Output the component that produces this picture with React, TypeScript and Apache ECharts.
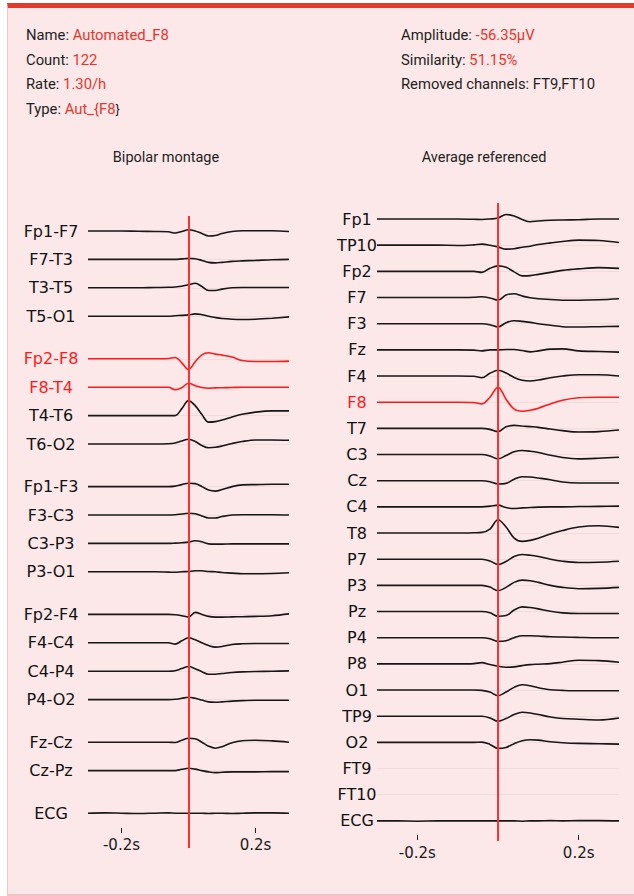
import React, { useEffect, useRef } from "react";
import * as echarts from "echarts";

// ---- time base (s) shared by every trace ----
const TIMES = [-0.3, -0.25, -0.2, -0.15, -0.1, -0.06, -0.04, -0.02, 0, 0.02, 0.04, 0.06, 0.08, 0.1, 0.13, 0.16, 0.2, 0.25, 0.3];
const X_TICKS = [-0.2, 0, 0.2];

// ---- header ----
const INFO_LEFT: [string, string][] = [
  ["Name", "Automated_F8"],
  ["Count", "122"],
  ["Rate", "1.30/h"],
  ["Type", "Aut_{F8}"],
];
const INFO_RIGHT: [string, string, boolean][] = [
  ["Amplitude", "-56.35μV", true],
  ["Similarity", "51.15%", true],
  ["Removed channels", "FT9,FT10", false],
];
const PANEL_TITLES = ["Bipolar montage", "Average referenced"];

// ---- bipolar montage ----
const BIPOLAR_GROUPS = [
  ["Fp1-F7", "F7-T3", "T3-T5", "T5-O1"],
  ["Fp2-F8", "F8-T4", "T4-T6", "T6-O2"],
  ["Fp1-F3", "F3-C3", "C3-P3", "P3-O1"],
  ["Fp2-F4", "F4-C4", "C4-P4", "P4-O2"],
  ["Fz-Cz", "Cz-Pz"],
  ["ECG"],
];
const BIPOLAR_HIGHLIGHT = ["Fp2-F8", "F8-T4"];

const fp1F7 = [0, 0, 0, -0.3, -0.5, -0.8, -2, -0.5, 1.3, 0, -2.5, -5, -4.5, -2.5, -0.5, 0.3, 0.3, 0.2, -0.5];
const f7T3 = [0, 0, 0, 0, 0, 0, 0, 0.5, 1, 0.7, -1, -3, -3.5, -3, -2, -1.5, -1, -0.3, 0];
const t3T5 = [0, 0, 0, 0, 0.3, 0.5, 0.8, 1.5, 3, 4.5, 1.3, -2.7, -2.7, -1.3, 0, 0.3, 0.3, 0.3, 0.3];
const t5O1 = [0, 0, 0, 0, 0, 0, 0.5, 0.8, 1.3, 2.3, 1.5, 0, -1.3, -2.3, -3, -3.3, -3, -2, -0.7];
const fp2F8 = [0, 0, 0, 0, 0, 0.3, 1.3, -4, -10.7, -3, 4, 6, 4.7, 3.7, 1.7, -1.7, -2.7, -2.7, -2.3];
const f8T4 = [0, 0, 0, 0, 0, 0, -2.5, -0.5, 4, 1.5, -0.3, -1, -0.7, -0.5, -0.3, 0, 0, 0, 0];
const t4T6 = [0, 0, 0, 0, 0, 0, 0, 7, 15, 10, 1, -6.5, -6, -4.5, -1.3, 1.3, 3.5, 4.7, 4.7];
const t6O2 = [0, 0, 0, 0, 0, 0.3, 1, 3, 4.7, 2.5, -1.5, -3.7, -3.3, -2, 0.5, 2.5, 4, 4, 3.7];
const fp1F3 = [0, 0, 0, 0, 0, 0, 0.5, 2, 3.3, 3, 0, -3.5, -4.5, -3, 0, 1.7, 2, 2.3, 2.3];
const f3C3 = [0, 0, 0, 0, 0, 0, 0.3, 1, 1.7, 1.2, -1, -3, -3, -1.5, 0, 0.3, 0.3, 0.3, 0];
const c3P3 = [0, 0, 0, 0, 0, 0, 0.3, 0.7, 1.3, 2.7, 1.7, -0.5, -0.7, -0.7, -0.5, -0.5, -0.5, -0.5, -0.5];
const p3O1 = [0, 0, 0, 0, 0, -0.3, -0.5, 0, 0.3, 1, 1, 0.3, 0, -0.7, -1.3, -2, -2, -1.7, -1];
const fp2F4 = [0, 0, 0, 0, 0, 0, -0.3, -1.3, -2.7, 2, 0, -2, -2.7, -2.7, -2.5, -2.3, -2, -1.3, 0.5];
const f4C4 = [0, 0, 0, 0, 0, 0, -1.3, 2, 5, 3, 0, -2.7, -4.3, -3.7, -1.7, -1, -0.7, -0.7, -0.7];
const c4P4 = [0, 0, 0, 0, 0, 0, 0.5, 2.7, 4.7, 2.5, -0.5, -3, -3, -2.3, -1.3, -0.7, -0.3, 0, 0.3];
const p4O2 = [0, 0, 0, 0, 0, 0, 0.3, 1.3, 2.3, 1.3, -0.5, -2.3, -2.7, -2.3, -1.5, -1, -0.7, -0.7, -0.7];
const fzCz = [0, 0, 0, 0, 0, 0, -0.3, 2, 4, 3.5, 0, -4, -6, -4.5, -0.5, 1.5, 2, 1.3, 0];
const czPz = [0, 0, 0, 0, 0, 0, 0, 1.3, 2.3, 1.5, 0, -1.3, -2, -1.7, -1.3, -1.3, -1.3, -1, -1];
const ecgBipolar = [0, 0.3, 0, -0.3, 0, 0.3, 0, 0, 0, 0, 0, -0.3, 0, 0, -0.3, 0, 0.3, 0.3, 0];

const BIPOLAR_WAVES: (number[] | null)[] = [
  fp1F7, f7T3, t3T5, t5O1,
  fp2F8, f8T4, t4T6, t6O2,
  fp1F3, f3C3, c3P3, p3O1,
  fp2F4, f4C4, c4P4, p4O2,
  fzCz, czPz,
  ecgBipolar,
];

// ---- average referenced ----
const AVG_CHANNELS = [
  "Fp1", "TP10", "Fp2", "F7", "F3", "Fz", "F4", "F8", "T7", "C3", "Cz", "C4",
  "T8", "P7", "P3", "Pz", "P4", "P8", "O1", "TP9", "O2", "FT9", "FT10", "ECG",
];
const AVG_HIGHLIGHT = ["F8"];

const fp1 = [0, 0, 0, 0, 0, -0.3, -0.5, 0, 1, 4.5, 3, -0.5, -2.7, -2, -1.3, -1, -0.7, 0, 0];
const tp10 = [0, 0, 0, 0, -0.3, 0.3, 1, 0, -1.7, -4, -3.5, -2, -1, 0.7, 2.3, 3.7, 5, 4.7, 2.7];
const fp2 = [0, 0, 0, 0, 0, 0, -1, 3, 5.5, 4, -0.5, -4.5, -4.3, -3, -1, 1, 2.5, 3.7, 3];
const f7 = [0, 0, 0, 0, 0, 0.3, 0.7, -0.5, -2.7, 2.5, 3.7, 1.5, -0.3, -1.3, -2, -2.7, -2.7, -2.3, -1.3];
const f3 = [0, 0, 0, 0, 0, 0, 0, -1, -3.3, 1, 3, 2.3, 1.3, 0, -1.5, -3, -3.3, -3, -2.7];
const fz = [0, 0, 0, 0, 0, -0.3, -1, 0, 0, 0.3, 0.3, -0.7, -2, -1, 0.7, 1, -1, -1.7, -2.3];
const f4 = [0, 0, 0, 0, 0, -0.3, -1.7, 2.7, 5.7, 3, -1.5, -4.3, -5, -4, -1.7, 0, 1.3, 1.3, 0];
const f8 = [0, 0, 0, 0, 0, -0.3, -1.7, 5, 15, 3, -7, -9, -8, -6, -1.7, 2, 4.5, 5, 5];
const t7 = [0, 0, 0, 0, 0, 0, 0, -1, -3.3, 1.5, 3, 2.3, 1.7, 1, -0.7, -2.3, -3.7, -3.3, -1.7];
const c3 = [0, 0, 0, 0, 0, 0, 0, -1.5, -4.3, -1, 2.7, 4, 3.3, 2, -0.7, -3, -4.3, -3.7, -2.7];
const cz = [0, 0, 0, 0, 0, 0, 0, -1, -3.3, -2.7, 1.5, 4, 3.7, 2.7, 1, -1.3, -2.3, -2.3, -2.3];
const c4 = [0, 0, 0, 0, 0, 0, 0, 0.7, 1.7, -0.7, -1.7, -1, -0.7, -0.3, 0, 0, 0.3, 0.5, 0.7];
const t8 = [0, 0, 0, 0, 0, 0.3, 0.7, 4, 13.3, 6, -5, -8.3, -7.3, -5.3, -1, 2.5, 6, 7.3, 5.7];
const p7 = [0, 0, 0, 0, 0, 0, 0, -1.7, -5.3, -2.3, 2.7, 4.7, 4, 2.7, 0, -2, -3.3, -3, -2];
const p3 = [0, 0, 0, 0, 0, 0, 0, -1.7, -5.3, -2, 3, 5.3, 4.7, 3, 0, -2, -3.3, -3, -2];
const pz = [0, 0, 0, 0, 0, 0, 0, -1.3, -4.7, -4, 1.5, 4.7, 4, 2.7, 0.3, -1.3, -2, -2, -2];
const p4 = [0, 0, 0, 0, 0, 0, 0, -1, -3.7, -3, 0, 2, 2, 1.7, 1, 0.7, 0.3, 0, 0];
const p8 = [0, 0, 0, 0, 0, 0.3, 1.3, -0.7, -2.3, -3.3, -3, -1.7, -0.7, -0.3, 0.3, 1.7, 3.7, 3.3, 1.7];
const o1 = [0, 0, 0, 0, 0, 0, -0.3, -2, -5.7, -2, 2.7, 5.3, 4.3, 2.3, 0.3, -0.3, -0.7, -0.7, -0.7];
const tp9 = [0, 0, 0, 0, 0, 0, 0, -1.7, -5, -2.3, 1.7, 4, 3.3, 1.7, -0.7, -2.3, -3, -3.7, -1.7];
const o2 = [0, 0, 0, 0, 0, 0, 0.3, -2, -6, -5, -1.3, 1.7, 2.7, 2.3, 0.7, -0.3, -1, -1.3, -1.7];
const ft9: number[] | null = null;
const ft10: number[] | null = null;
const ecgAvg = [0, 0, -0.3, 0, 0, 0, 0, 0, 0, 0, 0, -0.3, 0, 0, 0.3, 0, 0.3, 0.3, 0];

const AVG_WAVES: (number[] | null)[] = [
  fp1, tp10, fp2, f7, f3, fz, f4, f8, t7, c3, cz, c4,
  t8, p7, p3, pz, p4, p8, o1, tp9, o2, ft9, ft10, ecgAvg,
];

// ---- styling ----
const TRACE = "#161616";
const HILITE = "#ff1a1a";
const EVENT = "#ff3030";
const VALUE_RED = "#e8352b";
const MONO = "DejaVu Sans";
const SANS = "Roboto";

type Panel = {
  groups: string[][];
  waves: (number[] | null)[];
  highlight: string[];
  spacing: number;
  groupGap: number;
  grid: { left: number; top: number; width: number; height: number };
  yTop: number;
  axisOffset: number;
  labelMargin: number;
  tickLabelMargin: number;
};

function buildPanel(p: Panel, gi: number) {
  const names: string[] = [];
  const bases: number[] = [];
  let slot = 0;
  p.groups.forEach((g) => {
    g.forEach((n) => {
      names.push(n);
      bases.push(-slot * p.spacing);
      slot += 1;
    });
    slot += p.groupGap;
  });
  const yMax = p.yTop;
  const yMin = p.yTop - p.grid.height;

  const lookup = (v: number) => {
    let best = 0;
    let d = Infinity;
    bases.forEach((b, i) => {
      const dd = Math.abs(b - v);
      if (dd < d) {
        d = dd;
        best = i;
      }
    });
    return names[best];
  };

  const xAxis = {
    gridIndex: gi,
    type: "value",
    position: "bottom",
    min: -0.3,
    max: 0.3,
    offset: p.axisOffset,
    axisLine: { show: false, onZero: false },
    splitLine: { show: false },
    axisTick: { show: true, customValues: X_TICKS, length: 5, lineStyle: { color: "#222", width: 1 } },
    axisLabel: {
      customValues: X_TICKS,
      formatter: (v: number) => (Math.abs(v) < 1e-9 ? "" : `${v}s`),
      fontFamily: MONO,
      fontSize: 15,
      color: "#1a1a1a",
      margin: p.tickLabelMargin,
    },
  };

  const yAxis = {
    gridIndex: gi,
    type: "value",
    min: yMin,
    max: yMax,
    axisLine: { show: false, onZero: false },
    axisTick: { show: false },
    splitLine: { show: false },
    axisLabel: {
      customValues: bases,
      align: "center",
      margin: p.labelMargin,
      formatter: (v: number) => {
        const n = lookup(v);
        return p.highlight.includes(n) ? `{r|${n}}` : `{k|${n}}`;
      },
      rich: {
        k: { fontFamily: MONO, fontSize: 16, color: "#111" },
        r: { fontFamily: MONO, fontSize: 16, color: HILITE },
      },
    },
  };

  const series = names.map((n, i) => {
    const w = p.waves[i];
    const hl = p.highlight.includes(n);
    const markData: any[] = [
      { yAxis: bases[i], lineStyle: { color: "rgba(120,60,60,0.07)", width: 1, type: "solid" } },
    ];
    if (i === 0) {
      markData.push({ xAxis: 0, lineStyle: { color: EVENT, width: 2, type: "solid" } });
    }
    return {
      name: `${gi}-${n}`,
      type: "line",
      xAxisIndex: gi,
      yAxisIndex: gi,
      data: w ? TIMES.map((t, k) => [t, bases[i] + w[k]]) : [],
      showSymbol: false,
      symbol: "none",
      smooth: 0.35,
      silent: true,
      lineStyle: { color: hl ? HILITE : TRACE, width: 1.6 },
      markLine: {
        silent: true,
        symbol: ["none", "none"],
        label: { show: false },
        animation: false,
        data: markData,
      },
    };
  });

  return { grid: p.grid, xAxis, yAxis, series };
}

function buildOption() {
  const left = buildPanel(
    {
      groups: BIPOLAR_GROUPS,
      waves: BIPOLAR_WAVES,
      highlight: BIPOLAR_HIGHLIGHT,
      spacing: 28.4,
      groupGap: 0.5,
      grid: { left: 88, top: 216, width: 201, height: 632 },
      yTop: 15,
      axisOffset: -20,
      labelMargin: 37,
      tickLabelMargin: 9,
    },
    0
  );
  const right = buildPanel(
    {
      groups: [AVG_CHANNELS],
      waves: AVG_WAVES,
      highlight: AVG_HIGHLIGHT,
      spacing: 26.17,
      groupGap: 0,
      grid: { left: 377, top: 203, width: 242, height: 638 },
      yTop: 16,
      axisOffset: -6,
      labelMargin: 20,
      tickLabelMargin: 10,
    },
    1
  );

  const header: any[] = [];
  const infoText = (k: string, v: string, red: boolean, x: number, y: number) => ({
    type: "text",
    x,
    y,
    silent: true,
    style: {
      text: `{k|${k}: }{v|${v}}`,
      verticalAlign: "middle",
      rich: {
        k: { fontFamily: SANS, fontSize: 14.8, fill: "#1e1e1e" },
        v: { fontFamily: SANS, fontSize: 14.8, fill: red ? VALUE_RED : "#1e1e1e" },
      },
    },
  });
  INFO_LEFT.forEach(([k, v], i) => header.push(infoText(k, v, true, 26, 35 + i * 24.5)));
  INFO_RIGHT.forEach(([k, v, red], i) => header.push(infoText(k, v, red, 401, 35 + i * 24.5)));
  const titleX = [166, 484];
  PANEL_TITLES.forEach((t, i) => {
    header.push({
      type: "text",
      x: titleX[i],
      y: 157,
      silent: true,
      style: {
        text: t,
        align: "center",
        verticalAlign: "middle",
        fontFamily: SANS,
        fontSize: 14.5,
        fill: "#1e1e1e",
      },
    });
  });

  return {
    animation: false,
    backgroundColor: "transparent",
    grid: [left.grid, right.grid],
    xAxis: [left.xAxis, right.xAxis],
    yAxis: [left.yAxis, right.yAxis],
    series: [...left.series, ...right.series],
    graphic: header,
  };
}

export default function App() {
  const ref = useRef<HTMLDivElement>(null);
  useEffect(() => {
    if (!ref.current) return;
    const chart = echarts.init(ref.current, null, { renderer: "svg" });
    chart.setOption(buildOption() as any);
    return () => chart.dispose();
  }, []);
  return (
    <div style={{ position: "fixed", left: 0, top: 0, width: 634, height: 896, background: "#ffffff", overflow: "hidden" }}>
      <div
        style={{
          position: "absolute",
          left: 7,
          top: 3,
          width: 640,
          height: 893,
          boxSizing: "border-box",
          background: "#fce8e8",
          borderTop: "5px solid #e43a2c",
          borderLeft: "1px solid #f0c8c8",
          borderBottom: "2px solid #f3c2c2",
        }}
      />
      <div ref={ref} style={{ position: "absolute", left: 0, top: 0, width: 634, height: 896 }} />
    </div>
  );
}
